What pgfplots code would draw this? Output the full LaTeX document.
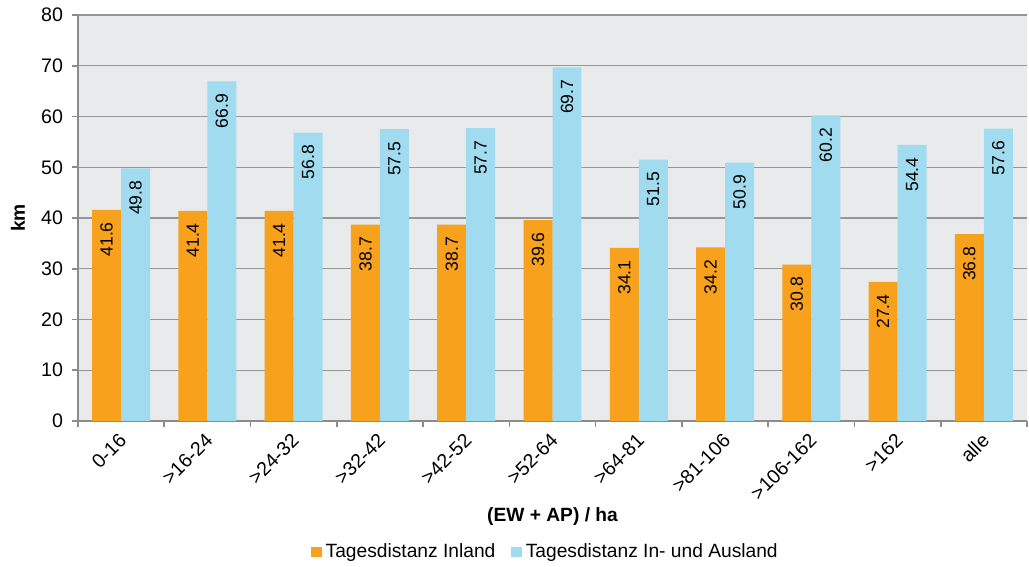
\documentclass[border=0pt]{standalone}
\usepackage{pgfplots}
\pgfplotsset{compat=1.18}
\usepackage{fontspec}
\setmainfont{Liberation Sans}
\definecolor{cor}{RGB}{247,161,28}
\definecolor{cbl}{RGB}{160,219,239}
\definecolor{bg}{RGB}{233,234,236}
\definecolor{gl}{RGB}{150,150,150}
\definecolor{al}{RGB}{140,140,140}
\begin{document}
\begin{tikzpicture}
\useasboundingbox (-39pt,-73pt) rectangle (475.5pt,210.5pt);
\begin{axis}[
  scale only axis,
  width=474.5pt, height=203pt,
  anchor=south west, at={(0,0)},
  ybar, bar width=0.336,
  xmin=-0.5, xmax=10.5, ymin=0, ymax=80,
  ytick={0,10,...,80},
  xtick={0,...,10},
  xticklabels={0-16,>16-24,>24-32,>32-42,>42-52,>52-64,>64-81,>81-106,>106-162,>162,alle},
  minor xtick={-0.5,0.5,...,10.5},
  major x tick style={draw=none},
  minor x tick style={al, line width=0.8pt},
  minor tick length=3pt,
  major tick length=3pt,
  y tick style={al, line width=0.8pt},
  tick align=outside,
  axis lines*=left,
  axis line style={al, line width=0.9pt},
  axis background/.style={fill=bg},
  ymajorgrids,
  major grid style={gl, line width=0.6pt},
  /pgf/number format/assume math mode=true,
  tick label style={font=\fontsize{9.8}{11}\selectfont},
  xticklabel style={yshift=-5pt, xshift=1pt, rotate=45, anchor=east, inner sep=0pt},
  yticklabel style={xshift=-1pt},
  every axis x label/.style={at={(axis description cs:0.5,0)}, anchor=center, yshift=-48pt, font=\bfseries\fontsize{9.6}{11}\selectfont},
  every axis y label/.style={at={(axis description cs:0,0.5)}, xshift=-30pt, rotate=90, anchor=center, font=\bfseries\fontsize{9.6}{11}\selectfont},
  xlabel={(EW + AP) / ha},
  ylabel={km},
  nodes near coords,
  nodes near coords style={/pgf/number format/fixed, /pgf/number format/fixed zerofill, /pgf/number format/precision=1, /pgf/number format/assume math mode=true},
  every node near coord/.append style={rotate=90, anchor=east, inner xsep=6pt, inner ysep=0pt, font=\fontsize{8.8}{10}\selectfont, text=black},
  legend style={at={(axis description cs:0.5,0)}, anchor=center, yshift=-65.5pt, xshift=-3pt, draw=none, fill=none, legend columns=2, font=\fontsize{9.6}{11}\selectfont, /tikz/every even column/.append style={column sep=6pt}, /tikz/every odd column/.append style={column sep=0pt}},
  legend image code/.code={\fill[#1] (0pt,-2.6pt) rectangle (5.2pt,2.6pt);},
]
\addplot[fill=cor, draw=none, bar shift=-0.168] coordinates {(0,41.6) (1,41.4) (2,41.4) (3,38.7) (4,38.7) (5,39.6) (6,34.1) (7,34.2) (8,30.8) (9,27.4) (10,36.8)};
\addplot[fill=cbl, draw=none, bar shift=0.168] coordinates {(0,49.8) (1,66.9) (2,56.8) (3,57.5) (4,57.7) (5,69.7) (6,51.5) (7,50.9) (8,60.2) (9,54.4) (10,57.6)};
\legend{Tagesdistanz Inland, Tagesdistanz In- und Ausland}
\end{axis}
\end{tikzpicture}
\end{document}
